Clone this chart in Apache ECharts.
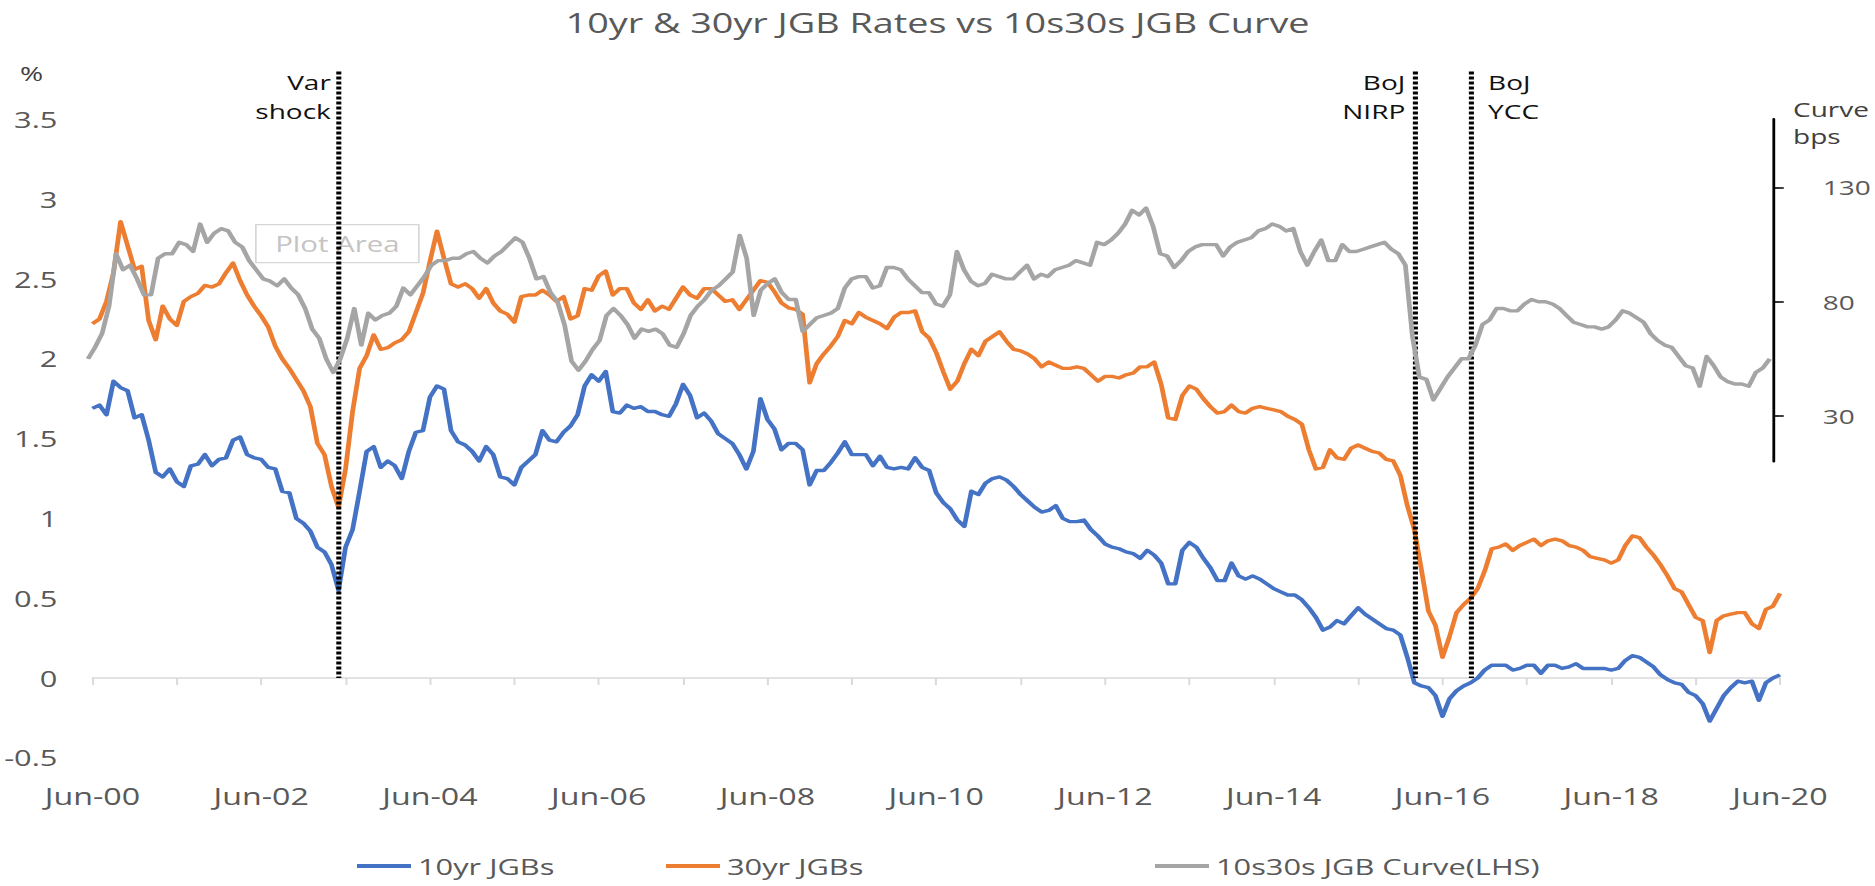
<!DOCTYPE html>
<html>
<head>
<meta charset="utf-8">
<title>10yr & 30yr JGB Rates vs 10s30s JGB Curve</title>
<script src="https://cdn.jsdelivr.net/npm/echarts@6/dist/echarts.min.js"></script>
<style>
  html, body { margin: 0; padding: 0; background: #ffffff; overflow: hidden; }
  #chart { height: 886px; transform-origin: 0 0; }
</style>
</head>
<body>
<div id="chart"></div>
<script>
// Month-end observations, Jun-2000 .. Jun-2020
const MONTH_NAMES = ['Jan', 'Feb', 'Mar', 'Apr', 'May', 'Jun', 'Jul', 'Aug', 'Sep', 'Oct', 'Nov', 'Dec'];
const months = [];
for (let i = 0; i <= 240; i++) {
  const m = (5 + i) % 12;
  const y = 2000 + Math.floor((5 + i) / 12);
  months.push(MONTH_NAMES[m] + '-' + String(y % 100).padStart(2, '0'));
}

// 10yr JGB yield, %
const jgb10 = [
  1.69, 1.71, 1.65, 1.86, 1.82, 1.80, 1.63, 1.65, 1.49, 1.29, 1.26, 1.31,
  1.23, 1.20, 1.33, 1.34, 1.40, 1.33, 1.37, 1.38, 1.49, 1.51, 1.40, 1.38,
  1.37, 1.32, 1.31, 1.17, 1.16, 1.00, 0.97, 0.92, 0.82, 0.79, 0.71, 0.55,
  0.82, 0.93, 1.17, 1.42, 1.45, 1.32, 1.36, 1.33, 1.25, 1.42, 1.54, 1.55,
  1.76, 1.83, 1.81, 1.55, 1.48, 1.46, 1.42, 1.36, 1.45, 1.40, 1.26, 1.25,
  1.21, 1.32, 1.36, 1.40, 1.55, 1.49, 1.48, 1.54, 1.58, 1.65, 1.83, 1.90,
  1.86, 1.92, 1.67, 1.66, 1.71, 1.69, 1.70, 1.67, 1.67, 1.65, 1.64, 1.72,
  1.84, 1.77, 1.63, 1.66, 1.61, 1.53, 1.50, 1.47, 1.40, 1.31, 1.42, 1.75,
  1.62, 1.56, 1.43, 1.47, 1.47, 1.43, 1.21, 1.30, 1.30, 1.35, 1.41, 1.48,
  1.40, 1.40, 1.40, 1.33, 1.39, 1.32, 1.31, 1.32, 1.31, 1.38, 1.32, 1.30,
  1.16, 1.10, 1.06, 0.99, 0.95, 1.17, 1.15, 1.22, 1.25, 1.26, 1.24, 1.20,
  1.15, 1.11, 1.07, 1.04, 1.05, 1.08, 1.00, 0.98, 0.98, 0.99, 0.93, 0.89,
  0.84, 0.82, 0.81, 0.79, 0.78, 0.75, 0.80, 0.77, 0.72, 0.59, 0.59, 0.80,
  0.85, 0.82, 0.75, 0.69, 0.61, 0.61, 0.72, 0.64, 0.62, 0.64, 0.62, 0.59,
  0.56, 0.54, 0.52, 0.52, 0.49, 0.44, 0.38, 0.30, 0.32, 0.36, 0.34, 0.39,
  0.44, 0.40, 0.37, 0.34, 0.31, 0.30, 0.27, 0.13, -0.03, -0.05, -0.06, -0.11,
  -0.24, -0.13, -0.08, -0.05, -0.03, 0.00, 0.05, 0.08, 0.08, 0.08, 0.05, 0.06,
  0.08, 0.08, 0.03, 0.08, 0.08, 0.06, 0.07, 0.09, 0.06, 0.06, 0.06, 0.06,
  0.05, 0.06, 0.11, 0.14, 0.13, 0.10, 0.07, 0.02, -0.01, -0.03, -0.04, -0.09,
  -0.11, -0.16, -0.27, -0.19, -0.11, -0.06, -0.02, -0.03, -0.02, -0.14, -0.03, 0.00,
  0.02
];

// 30yr JGB yield, %
const jgb30 = [
  2.22, 2.25, 2.36, 2.54, 2.86, 2.71, 2.56, 2.58, 2.24, 2.12, 2.33, 2.25,
  2.21, 2.36, 2.39, 2.41, 2.46, 2.45, 2.47, 2.54, 2.60, 2.49, 2.40, 2.33,
  2.27, 2.20, 2.08, 2.00, 1.94, 1.87, 1.80, 1.70, 1.47, 1.40, 1.20, 1.07,
  1.31, 1.67, 1.94, 2.02, 2.15, 2.06, 2.07, 2.10, 2.12, 2.17, 2.29, 2.41,
  2.61, 2.80, 2.63, 2.47, 2.45, 2.47, 2.44, 2.38, 2.44, 2.35, 2.30, 2.28,
  2.23, 2.39, 2.40, 2.40, 2.43, 2.40, 2.36, 2.39, 2.25, 2.27, 2.44, 2.43,
  2.52, 2.55, 2.40, 2.44, 2.44, 2.35, 2.31, 2.37, 2.30, 2.33, 2.31, 2.38,
  2.45, 2.40, 2.38, 2.44, 2.44, 2.40, 2.36, 2.37, 2.31, 2.37, 2.43, 2.49,
  2.48, 2.42, 2.35, 2.32, 2.31, 2.28, 1.85, 1.97, 2.03, 2.08, 2.14, 2.24,
  2.22, 2.29, 2.26, 2.24, 2.22, 2.19, 2.26, 2.29, 2.29, 2.30, 2.17, 2.13,
  2.04, 1.92, 1.81, 1.86, 1.97, 2.06, 2.02, 2.11, 2.14, 2.17, 2.11, 2.06,
  2.05, 2.03, 2.00, 1.95, 1.98, 1.96, 1.94, 1.94, 1.95, 1.94, 1.90, 1.86,
  1.89, 1.89, 1.88, 1.90, 1.91, 1.95, 1.95, 1.98, 1.84, 1.63, 1.62, 1.77,
  1.83, 1.81, 1.75, 1.70, 1.66, 1.67, 1.71, 1.67, 1.66, 1.69, 1.70, 1.69,
  1.68, 1.67, 1.64, 1.62, 1.59, 1.43, 1.31, 1.32, 1.43, 1.38, 1.37, 1.44,
  1.46, 1.44, 1.42, 1.41, 1.37, 1.36, 1.27, 1.08, 0.93, 0.68, 0.42, 0.33,
  0.13, 0.26, 0.41, 0.46, 0.50, 0.56, 0.67, 0.81, 0.82, 0.84, 0.80, 0.83,
  0.85, 0.87, 0.83, 0.86, 0.87, 0.86, 0.83, 0.82, 0.80, 0.76, 0.75, 0.74,
  0.72, 0.74, 0.83, 0.89, 0.88, 0.82, 0.77, 0.71, 0.64, 0.56, 0.54, 0.46,
  0.38, 0.36, 0.16, 0.36, 0.39, 0.40, 0.41, 0.41, 0.34, 0.31, 0.43, 0.45,
  0.53
];

// 10s30s JGB curve, bps
const curve10s30s = [
  55, 60, 66, 78, 101, 94, 96, 90, 83, 83, 99, 101,
  101, 106, 105, 102, 114, 106, 110, 112, 111, 106, 104, 98,
  94, 90, 89, 87, 90, 86, 83, 77, 68, 64, 55, 49,
  55, 64, 77, 61, 75, 72, 74, 75, 78, 86, 83, 87,
  91, 96, 98, 98, 99, 99, 101, 102, 99, 97, 100, 102,
  105, 108, 106, 99, 90, 91, 84, 80, 70, 54, 50, 54,
  59, 63, 74, 77, 74, 70, 64, 68, 67, 68, 66, 61,
  60, 66, 74, 78, 81, 85, 87, 90, 93, 109, 99, 74,
  85, 88, 90, 84, 81, 81, 67, 70, 73, 74, 75, 77,
  86, 90, 91, 91, 86, 87, 95, 95, 94, 90, 87, 84,
  84, 79, 78, 83, 102, 94, 89, 87, 88, 92, 91, 90,
  90, 93, 96, 90, 92, 91, 94, 95, 96, 98, 97, 96,
  106, 105, 107, 110, 114, 120, 118, 121, 113, 101, 100, 95,
  98, 102, 104, 105, 105, 105, 100, 104, 106, 107, 108, 111,
  112, 114, 113, 111, 112, 102, 96, 102, 107, 98, 98, 105,
  102, 102, 103, 104, 105, 106, 103, 101, 96, 65, 47, 46,
  37, 42, 47, 51, 55, 55, 61, 70, 72, 77, 77, 76,
  76, 79, 81, 80, 80, 79, 77, 74, 71, 70, 69, 69,
  68, 69, 72, 76, 75, 73, 71, 66, 63, 61, 60, 56,
  52, 51, 43, 56, 52, 47, 45, 44, 44, 43, 49, 51,
  55
];

// Axis ticks
const rateTicks = [-0.5, 0, 0.5, 1, 1.5, 2, 2.5, 3, 3.5];
const curveTicks = [30, 80, 130];

// Policy / market events marked with a dotted vertical line
const events = [
  { month: 'May-03', text: 'Var\nshock', side: 'left', gap: 5 },
  { month: 'Feb-16', text: 'BoJ\nNIRP', side: 'left', gap: 6 },
  { month: 'Oct-16', text: 'BoJ\nYCC', side: 'right', gap: 13 }
];
const EVENT_TOP = 3.8;   // top of the event lines, in % units

// The chart is laid out on a narrower canvas and widened to the page width.
const PAGE_W = 1875;
const STRETCH = 1.4;
const W = PAGE_W / STRETCH;
const hx = v => v / STRETCH;   // page-width pixels -> layout pixels

const FONT = '"Open Sans", "Noto Sans", sans-serif';
const GREY_TEXT = '#595959';
const BLUE = '#4472C4', ORANGE = '#ED7D31', GREY = '#A5A5A5';

const el = document.getElementById('chart');
el.style.width = W + 'px';
el.style.transform = 'scaleX(' + STRETCH + ')';
const chart = echarts.init(el, null, { renderer: 'svg', width: W, height: 886 });

const eventLines = events.map(e => [
  { coord: [e.month, EVENT_TOP] },
  { coord: [e.month, 0] }
]);
const eventLabels = events.map(e => ({
  coord: [e.month, EVENT_TOP],
  label: {
    show: true,
    formatter: e.text,
    position: e.side === 'left' ? [-e.gap, -3] : [e.gap, -3],
    align: e.side === 'left' ? 'right' : 'left',
    verticalAlign: 'top',
    fontFamily: FONT,
    fontSize: 20,
    lineHeight: 29,
    color: '#111111'
  }
}));

const lineSeries = (name, data, color, xi, yi, extra) => Object.assign({
  name, type: 'line', data,
  xAxisIndex: xi, yAxisIndex: yi,
  symbol: 'none', showSymbol: false,
  lineStyle: { color, width: 3.4, join: 'round' },
  itemStyle: { color },
  emphasis: { disabled: true },
  clip: false
}, extra || {});

const legendAt = (name, left) => ({
  data: [name],
  left: hx(left), top: 850,
  icon: 'rect', itemWidth: hx(54), itemHeight: 4,
  itemGap: 0,
  selectedMode: false,
  textStyle: { fontFamily: FONT, fontSize: 22, color: GREY_TEXT }
});

const option = {
  animation: false,
  backgroundColor: '#ffffff',
  textStyle: { fontFamily: FONT },
  title: {
    text: '10yr & 30yr JGB Rates vs 10s30s JGB Curve',
    left: 'center', top: 4,
    textStyle: { fontFamily: FONT, fontSize: 27, fontWeight: 'normal', color: GREY_TEXT }
  },
  legend: [
    legendAt('10yr JGBs', 350),
    legendAt('30yr JGBs', 659),
    legendAt('10s30s JGB Curve(LHS)', 1148)
  ],
  grid: [
    { left: hx(88), right: hx(95), top: 71.6, bottom: 128.2 },
    { left: hx(88), right: hx(95), top: 119, bottom: 424.4 }
  ],
  xAxis: [
    {
      type: 'category', gridIndex: 0, data: months, boundaryGap: false,
      axisLine: { onZero: true, lineStyle: { color: '#D9D9D9', width: 1.6 } },
      axisTick: { interval: 11, length: 7, lineStyle: { color: '#D9D9D9', width: 1.4 } },
      axisLabel: { interval: 23, margin: 27, fontFamily: FONT, fontSize: 23, color: GREY_TEXT },
      splitLine: { show: false }
    },
    { type: 'category', gridIndex: 1, data: months, boundaryGap: false, show: false }
  ],
  yAxis: [
    {
      type: 'value', gridIndex: 0, min: -0.5, max: EVENT_TOP,
      axisLine: { show: false }, axisTick: { show: false }, splitLine: { show: false },
      axisLabel: { customValues: rateTicks, margin: hx(35), fontFamily: FONT, fontSize: 22, color: GREY_TEXT }
    },
    {
      type: 'value', gridIndex: 1, position: 'right', offset: hx(4), min: 10, max: 160,
      axisLine: { show: true, lineStyle: { color: '#000000', width: 2 } },
      axisTick: { show: true, customValues: curveTicks, length: hx(10), lineStyle: { color: '#000000', width: 1.6 } },
      axisLabel: {
        customValues: curveTicks, margin: hx(33), padding: [0, 0, 0, hx(16)],
        fontFamily: FONT, fontSize: 20, color: GREY_TEXT
      },
      splitLine: { show: false }
    }
  ],
  series: [
    lineSeries('10yr JGBs', jgb10, BLUE, 0, 0, {
      z: 3,
      markLine: {
        silent: true, symbol: ['none', 'none'],
        label: { show: false },
        lineStyle: { color: '#000000', width: 3.6, type: [3, 2] },
        data: eventLines
      },
      markPoint: {
        silent: true, symbol: 'circle', symbolSize: 1,
        itemStyle: { color: 'rgba(0,0,0,0)' },
        data: eventLabels
      }
    }),
    lineSeries('30yr JGBs', jgb30, ORANGE, 0, 0, { z: 4 }),
    lineSeries('10s30s JGB Curve(LHS)', curve10s30s, GREY, 1, 1, { z: 5 })
  ],
  graphic: [
    { type: 'text', left: hx(20), top: 63,
      style: { text: '%', fontFamily: FONT, fontSize: 20, fill: '#404040' } },
    { type: 'text', right: hx(6), top: 96,
      style: { text: 'Curve\nbps', align: 'right', fontFamily: FONT, fontSize: 20, lineHeight: 27, fill: '#404040' } },
    { type: 'group', left: hx(255), top: 224, children: [
      { type: 'rect', shape: { x: 0, y: 0, width: hx(163), height: 38 },
        style: { fill: 'rgba(255,255,255,0.35)', stroke: '#D6D6D6', lineWidth: 1.2 } },
      { type: 'text', x: hx(163) / 2, y: 19,
        style: { text: 'Plot Area', align: 'center', verticalAlign: 'middle', fontFamily: FONT, fontSize: 21, fill: '#C4C4C4' } }
    ] }
  ]
};

chart.setOption(option);
</script>
</body>
</html>
